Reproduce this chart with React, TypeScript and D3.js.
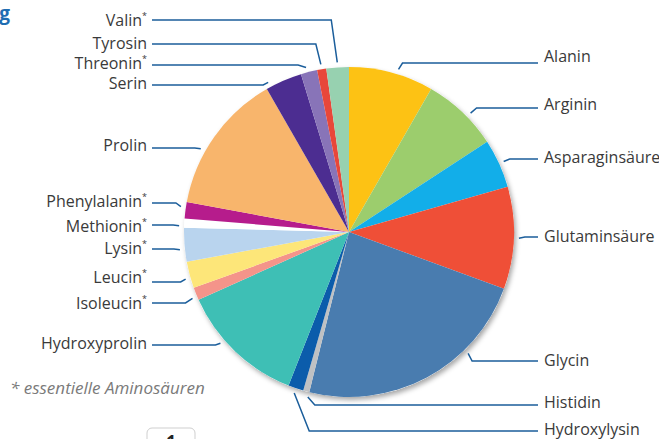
import * as d3 from "d3";

const aminoAcids = [
  "Alanin", "Arginin", "Asparaginsäure", "Glutaminsäure", "Glycin", "Histidin",
  "Hydroxylysin", "Hydroxyprolin", "Isoleucin", "Leucin", "Lysin", "Methionin",
  "Phenylalanin", "Prolin", "Serin", "Threonin", "Tyrosin", "Valin",
];
// share of total amino acids, %
const shares = [8.3, 7.5, 4.8, 10.0, 23.3, 0.6, 1.5, 12.3, 1.25, 2.6, 3.3, 0.9, 1.6, 13.8, 3.6, 1.6, 0.9, 2.2];
const essential = ["Isoleucin", "Leucin", "Lysin", "Methionin", "Phenylalanin", "Threonin", "Valin"];
const colors = [
  "#fdc214", "#9ccd6d", "#12aee9", "#ef4f37", "#497caf", "#bfc1c3",
  "#0b5cab", "#3ebfb5", "#f4948a", "#fde679", "#b9d4ee", "#ffffff",
  "#b61c8c", "#f8b56c", "#4c2d91", "#8874b8", "#e8473a", "#97d1b0",
];

// label layout (text centre, leader y, angle tweak in degrees, elbow length)
const textY = [56, 104, 157, 236, 360, 402, 429, 343, 303, 277, 248, 226, 201, 145, 83, 63, 43, 20];
const lineY = [63, 108, 159, 237, 361, 405, 431, 345, 303, 282, 249, 225, 203, 148, 85, 65, 44, 20];
const angleTweak = [2, 2.3, 0, 0, -16.5, -1, 0, 5.5, -1, -1, -1.5, -1, 1, -6, -5, -0.6, 0, 0];
const elbow = [4, 6, 6, 6, 4, 7, 15, 5, 7, 5, 6, 6, 5, 6, 5, 8, 5, 6];

const W = 659;
const H = 439;
const cx = 349;
const cy = 232;
const R = 165;
const FONT = "'Open Sans', sans-serif";

export default function App() {
  const data = aminoAcids.map((name, i) => ({ name, value: shares[i], color: colors[i], i }));
  const pie = d3.pie<any>().sort(null).value((d) => d.value).startAngle(0).endAngle(2 * Math.PI);
  const arcs = pie(data);
  const arc = d3.arc<any>().innerRadius(0).outerRadius(R);

  return (
    <svg width={W} height={H} style={{ position: "absolute", left: 0, top: 0, fontFamily: FONT }}>
      <defs>
        <filter id="shadow" x="-20%" y="-20%" width="140%" height="140%">
          <feDropShadow dx="2" dy="3" stdDeviation="2.5" floodColor="#000" floodOpacity="0.35" />
        </filter>
      </defs>
      <rect width={W} height={H} fill="#fff" />

      <text x={10} y={20} textAnchor="end" fontSize={19} fontWeight={700} fill="#1f6db2">g</text>

      <g transform={`translate(${cx},${cy})`}>
        <circle r={R} fill="#fff" filter="url(#shadow)" />
        {arcs.map((a) => (
          <path key={a.data.name} d={arc(a) as string} fill={a.data.color} />
        ))}
      </g>

      {arcs.map((a) => {
        const i = a.data.i;
        const right = i < 7;
        const mid = (a.startAngle + a.endAngle) / 2 + (angleTweak[i] * Math.PI) / 180;
        const ax = cx + (R + 5) * Math.sin(mid);
        const ay = cy - (R + 5) * Math.cos(mid);
        const ex = right ? ax + elbow[i] : ax - elbow[i];
        const endX = right ? 538 : 152;
        const path = `M${endX},${lineY[i]}H${ex}L${ax},${ay}`;
        const star = essential.includes(a.data.name);
        return (
          <g key={"l" + a.data.name}>
            <path d={path} fill="none" stroke="#1b5e9b" strokeWidth={1.5} />
            <text
              x={right ? 544 : 147}
              y={textY[i]}
              dy="0.36em"
              textAnchor={right ? "start" : "end"}
              fontSize={16}
              fill="#3a3a3a"
            >
              {a.data.name}
              {star && (
                <tspan fontSize={9} dy="-0.7em">*</tspan>
              )}
            </text>
          </g>
        );
      })}

      <text x={10} y={388} dy="0.36em" fontSize={17} fontStyle="italic" fill="#7a7a7a">
        * essentielle Aminosäuren
      </text>

      <rect x={147} y={428} width={48} height={24} rx={5} fill="#fff" stroke="#cfcfcf" />
      <text x={171} y={448} textAnchor="middle" fontSize={17} fontWeight={700} fill="#222">1</text>
    </svg>
  );
}
